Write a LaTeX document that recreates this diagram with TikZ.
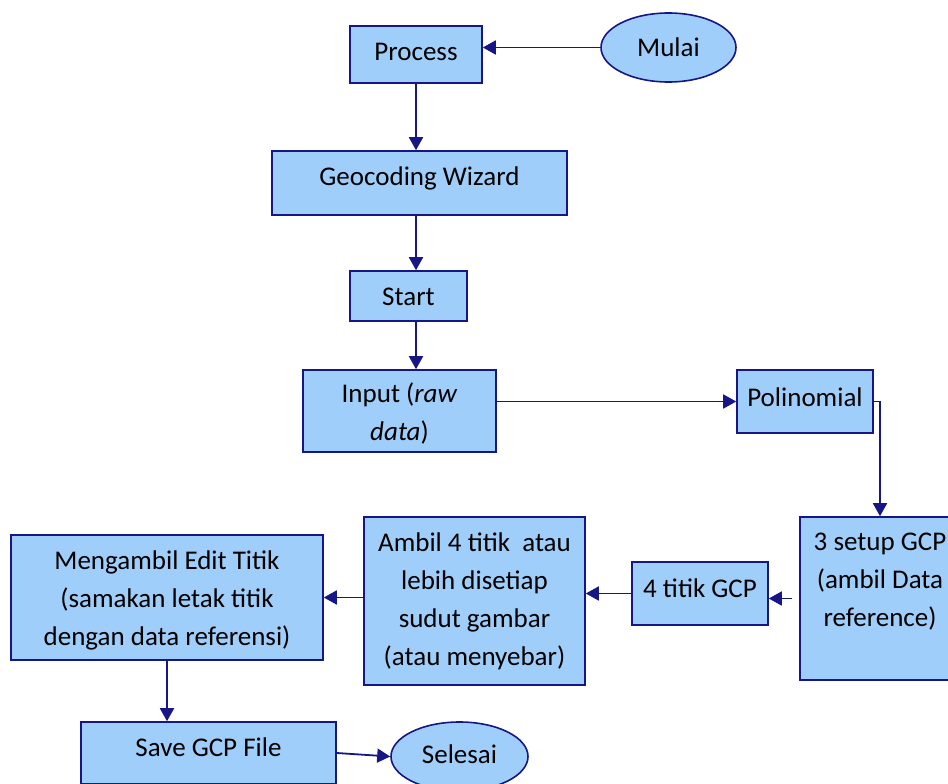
\documentclass[tikz,border=0pt]{standalone}
\usepackage{fontspec}
\setmainfont{Carlito}
\usetikzlibrary{shapes.geometric,arrows.meta}
\definecolor{navy}{RGB}{22,22,135}
\definecolor{boxblue}{RGB}{160,206,250}
\tikzset{
  box/.style={draw=navy, fill=boxblue, line width=1.6pt, inner sep=0pt, rectangle},
  oval/.style={draw=navy, fill=boxblue, line width=1.6pt, inner sep=0pt, ellipse, font=\fontsize{27}{38}\selectfont},
  lbl/.style={inner sep=0pt, align=center, text=black, font=\fontsize{27}{38}\selectfont},
  conn/.style={draw=navy, line width=1.8pt, -{Triangle[length=13pt,width=14pt]}},
}
\begin{document}
\begin{tikzpicture}[x=1pt,y=-1pt]
\useasboundingbox (0,0) rectangle (948,784);
\clip (0,0) rectangle (948,784);
\fill[white] (0,0) rectangle (948,784);
% boxes
\node[box, minimum width=132, minimum height=57] (process) at (416,54.5) {};
\node[lbl] (processT) at (416,52) {Process};
\node[oval, minimum width=135, minimum height=69] (mulai) at (668.5,47.5) {Mulai};
\node[box, minimum width=295, minimum height=64] (geo) at (419.5,183) {};
\node[lbl] (geoT) at (419.5,178) {Geocoding Wizard};
\node[box, minimum width=117, minimum height=50] (start) at (408.5,296) {};
\node[lbl] (startT) at (408.5,297) {Start};
\node[box, minimum width=193, minimum height=82] (input) at (399.5,411) {};
\node[lbl] (inputT) at (399.5,414) {Input (\textit{raw}\\\textit{data})};
\node[box, minimum width=136, minimum height=63] (poly) at (805,401.5) {};
\node[lbl] (polyT) at (805,397) {Polinomial};
\node[box, minimum width=160, minimum height=163] (setup) at (880,598.5) {};
\node[lbl] (setupT) at (880,582) {3 setup GCP\\(ambil Data\\reference)};
\node[box, minimum width=136, minimum height=63] (four) at (700,593.5) {};
\node[lbl] (fourT) at (700,588) {4 titik GCP};
\node[box, minimum width=221, minimum height=168] (ambil) at (474.5,601) {};
\node[lbl] (ambilT) at (474.5,601) {Ambil 4 titik\ \ atau\\lebih disetiap\\sudut gambar\\(atau menyebar)};
\node[box, minimum width=312, minimum height=125] (meng) at (167,597.5) {};
\node[lbl] (mengT) at (167,600) {Mengambil Edit Titik\\(samakan letak titik\\dengan data referensi)};
\node[box, minimum width=255, minimum height=62] (save) at (208.5,753) {};
\node[lbl] (saveT) at (208.5,747) {Save GCP File};
\node[oval, minimum width=137, minimum height=69] (selesai) at (459.5,756.5) {};
\node[lbl] (selesaiT) at (459.5,754) {Selesai};
% connectors
\draw[conn] (mulai.west) -- (mulai.west -| process.east);
\draw[conn] (process.south) -- (process.south |- geo.north);
\draw[conn] (geo.south -| process.south) -- (start.north -| process.south);
\draw[conn] (start.south -| process.south) -- (input.north -| process.south);
\draw[conn] (poly.west -| input.east) -- (poly.west);
\draw[conn] (poly.east) -- ++(7,0) -| (setup.north);
\draw[conn] ([xshift=-7pt]setup.west) -- (setup.west -| four.east);
\draw[conn] (four.west) -- (four.west -| ambil.east);
\draw[conn] (ambil.west |- meng.east) -- (meng.east);
\draw[conn] (meng.south) -- (meng.south |- save.north);
\draw[conn] (save.east) -- (selesai.west);
\end{tikzpicture}
\end{document}
